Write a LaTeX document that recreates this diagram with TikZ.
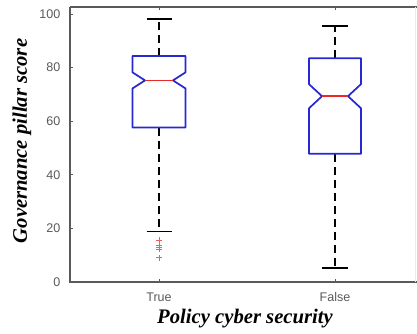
\documentclass[tikz,border=0pt]{standalone}
\usepackage{fontspec}
\newfontfamily\ticksans{Liberation Sans}
\newfontfamily\labelserif{Liberation Serif}
\definecolor{boxblue}{RGB}{40,40,210}
\definecolor{medred}{RGB}{235,40,40}
\definecolor{axisgray}{RGB}{90,90,90}
\tikzset{
  boxline/.style={boxblue,line width=1.3pt,line join=round},
  medline/.style={medred,line width=1.3pt},
  whisker/.style={black,line width=1.3pt,dash pattern=on 6pt off 3.8pt},
  capline/.style={black,line width=1.2pt},
  outlier/.style={medred!75,line width=0.7pt},
  ticklabel/.style={font=\ticksans\fontsize{9.4}{10}\selectfont,text=axisgray},
  axislabel/.style={font=\labelserif\fontsize{15.5}{17}\selectfont\bfseries\itshape}
}
\begin{document}
\begin{tikzpicture}[x=0.75pt,y=2.01pt]
\useasboundingbox (0,-19.4) rectangle (417,105.2);
% axes
\draw[axisgray,line width=1pt] (70,102.6)--(70,0)--(417,0);
\draw[axisgray,line width=1pt] (70,102.6)--(417,102.6);
\draw[black!8,line width=0.6pt] (415,0)--(415,102.6);
\foreach \v in {0,20,...,100} {
  \draw[axisgray,line width=0.6pt] (70,\v)--(73,\v);
  \node[ticklabel,anchor=east] (ytick\v) at (65,\v) {\v};
}
\foreach \x in {159,335} {
  \draw[axisgray,line width=0.6pt] (\x,0)--(\x,1.2);
  \draw[axisgray,line width=0.6pt] (\x,102.6)--(\x,101.4);
}
\node[ticklabel] (xtrue) at (159,-5.8) {True};
\node[ticklabel] (xfalse) at (335,-5.8) {False};
\node[axislabel] (xlabel) at (245,-13.6) {Policy cyber security};
\node[axislabel,rotate=90] (ylabel) at (22,52.6) {Governance pillar score};
% True box
\draw[whisker] (159,84.3)--(159,98.1);
\draw[whisker] (159,57.6)--(159,18.8);
\draw[capline] (146.5,98.1)--(171.5,98.1);
\draw[capline] (146.5,18.8)--(171.5,18.8);
\draw[boxline] (132.5,84.3)--(185.5,84.3)--(185.5,78.2)--(173,75.2)
    --(185.5,72.2)--(185.5,57.6)--(132.5,57.6)--(132.5,72.2)
    --(145,75.2)--(132.5,78.2)--cycle;
\draw[medline] (145,75.2)--(173,75.2);
\foreach \v in {15.5,13.5,12.8,12.2,9}
  \draw[outlier] (156,\v)--(162,\v) (159,\v-1.2)--(159,\v+1.2);
% False box
\draw[whisker] (335,83.5)--(335,95.6);
\draw[whisker] (335,47.8)--(335,5.1);
\draw[capline] (322,95.6)--(348,95.6);
\draw[capline] (322,5.1)--(348,5.1);
\draw[boxline] (309,83.5)--(361,83.5)--(361,73.8)--(348,69.3)
    --(361,64.8)--(361,47.8)--(309,47.8)--(309,64.8)
    --(322,69.3)--(309,73.8)--cycle;
\draw[medline] (322,69.3)--(348,69.3);
\end{tikzpicture}
\end{document}
